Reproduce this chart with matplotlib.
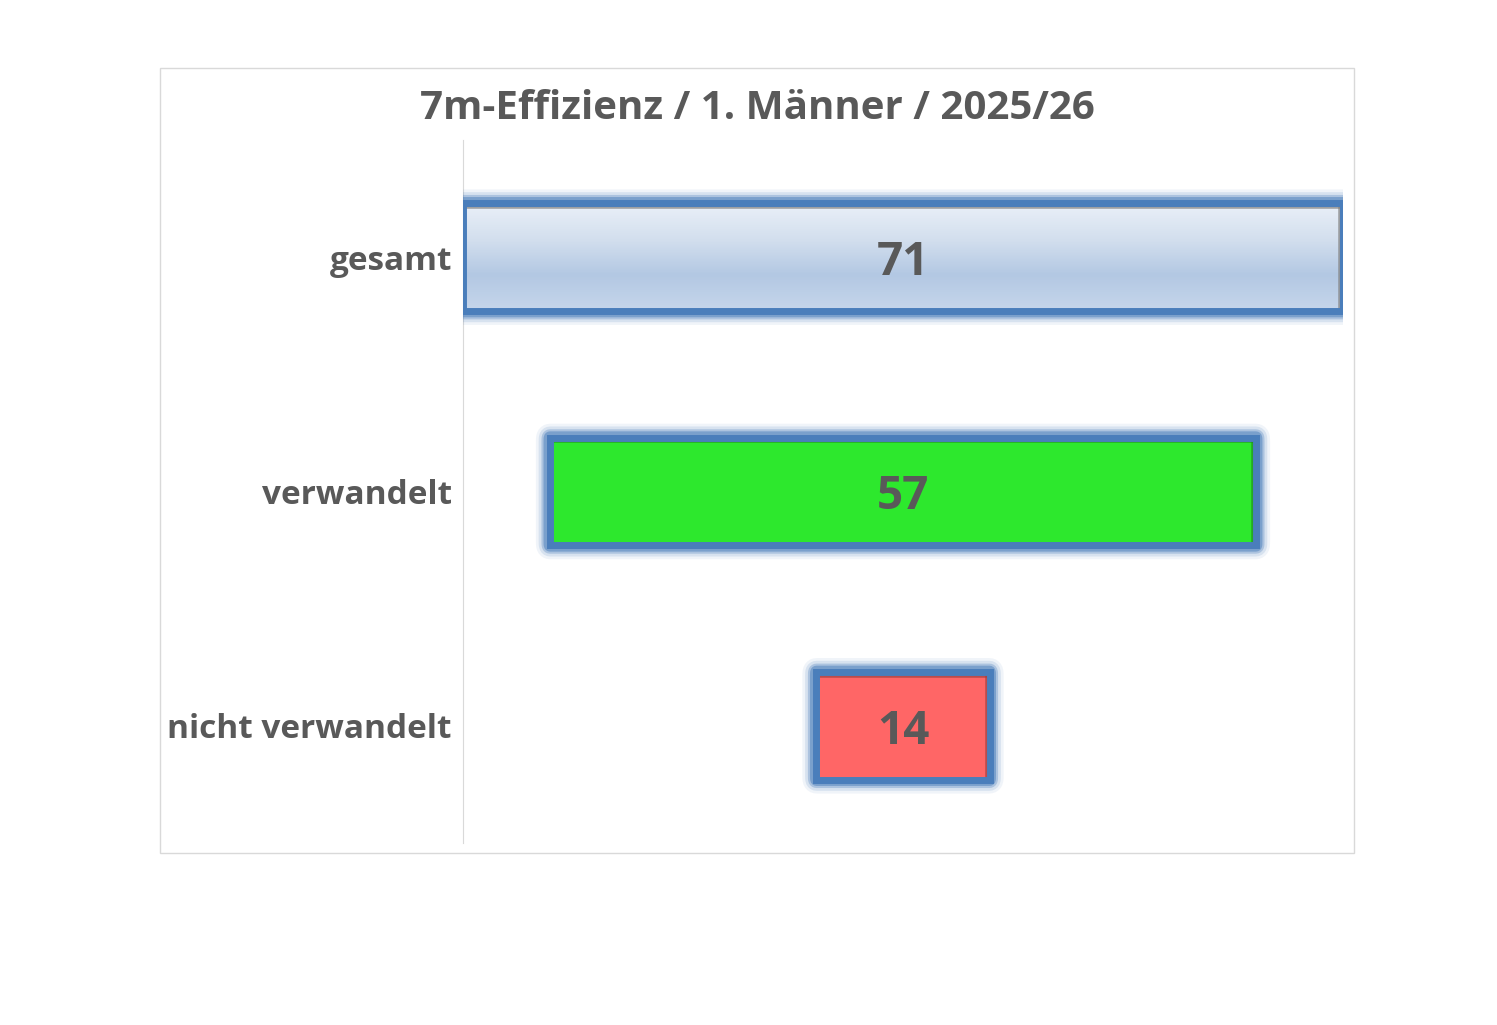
import matplotlib.pyplot as plt
import matplotlib.patches as mpatches
import numpy as np

# data
categories = ["gesamt", "verwandelt", "nicht verwandelt"]
values = [71, 57, 14]
bar_colors = ["#c9d8ec", "#2de82d", "#ff6666"]
shade_colors = ["#7f7f7f", "#1f8f1f", "#a04040"]
title = "7m-Effizienz / 1. Männer / 2025/26"

plt.rcParams['font.family'] = ['Open Sans', 'DejaVu Sans']
text_col = "#595959"
edge_blue = "#4a7ebb"

fig = plt.figure(figsize=(14.97, 10.25), dpi=100)
fig.patch.set_facecolor("white")

# chart area frame
fig.add_artist(mpatches.Rectangle((0.1069, 0.1678), 0.7976, 0.7659, transform=fig.transFigure,
                                  fill=False, edgecolor="#d9d9d9", linewidth=1))
fig.text(0.5057, 0.894, title, ha="center", va="center", fontsize=29,
         fontweight="bold", color=text_col)

ax = fig.add_axes([0.3093, 0.1776, 0.5878, 0.6858])
vmax = max(values)
ax.set_xlim(0, vmax)
ax.set_ylim(len(values) - 0.5, -0.5)
h = 0.46

for i, (cat, v) in enumerate(zip(categories, values)):
    left = (vmax - v) / 2
    # soft glow around the bar
    for lw, a in [(20, 0.08), (16, 0.15), (12, 0.3), (9, 0.5)]:
        ax.add_patch(mpatches.FancyBboxPatch((left, i - h / 2), v, h,
                                             boxstyle="round,pad=0,rounding_size=0.02",
                                             fill=False, edgecolor=edge_blue, linewidth=lw,
                                             alpha=a, joinstyle="round", zorder=2))
    bar = ax.barh(i, v, left=left, height=h, color=bar_colors[i], zorder=3)[0]
    if i == 0:
        grad = np.linspace(0, 1, 100).reshape(-1, 1)
        cmap = plt.matplotlib.colors.LinearSegmentedColormap.from_list(
            "g", ["#eaf0f8", "#d3dfee", "#b3c8e3", "#c6d6eb"])
        im = ax.imshow(grad, extent=(left, left + v, i + h / 2, i - h / 2), cmap=cmap,
                       aspect="auto", zorder=4)
        im.set_clip_path(bar)
    # inner shadow on top and right side
    ax.plot([left, left + v], [i - h / 2 + 0.012, i - h / 2 + 0.012],
            color=shade_colors[i], linewidth=4, alpha=0.7, zorder=5, solid_capstyle="butt")
    ax.plot([left + v - 0.15, left + v - 0.15], [i - h / 2, i + h / 2],
            color=shade_colors[i], linewidth=4, alpha=0.7, zorder=5, solid_capstyle="butt")
    ax.add_patch(mpatches.Rectangle((left, i - h / 2), v, h, fill=False,
                                    edgecolor=edge_blue, linewidth=5, zorder=6))
    ax.text(vmax / 2, i, str(v), ha="center", va="center_baseline", fontsize=33,
            fontweight="bold", color=text_col, zorder=7)

ax.set_yticks(range(len(categories)))
ax.set_yticklabels(categories, fontsize=24, fontweight="bold", color=text_col)
ax.tick_params(axis="y", length=0, pad=8)
ax.set_xticks([])
for s in ["top", "right", "bottom"]:
    ax.spines[s].set_visible(False)
ax.spines["left"].set_color("#d9d9d9")
ax.spines["left"].set_zorder(1)
ax.set_facecolor("none")

fig.savefig("out.png", dpi=100)
